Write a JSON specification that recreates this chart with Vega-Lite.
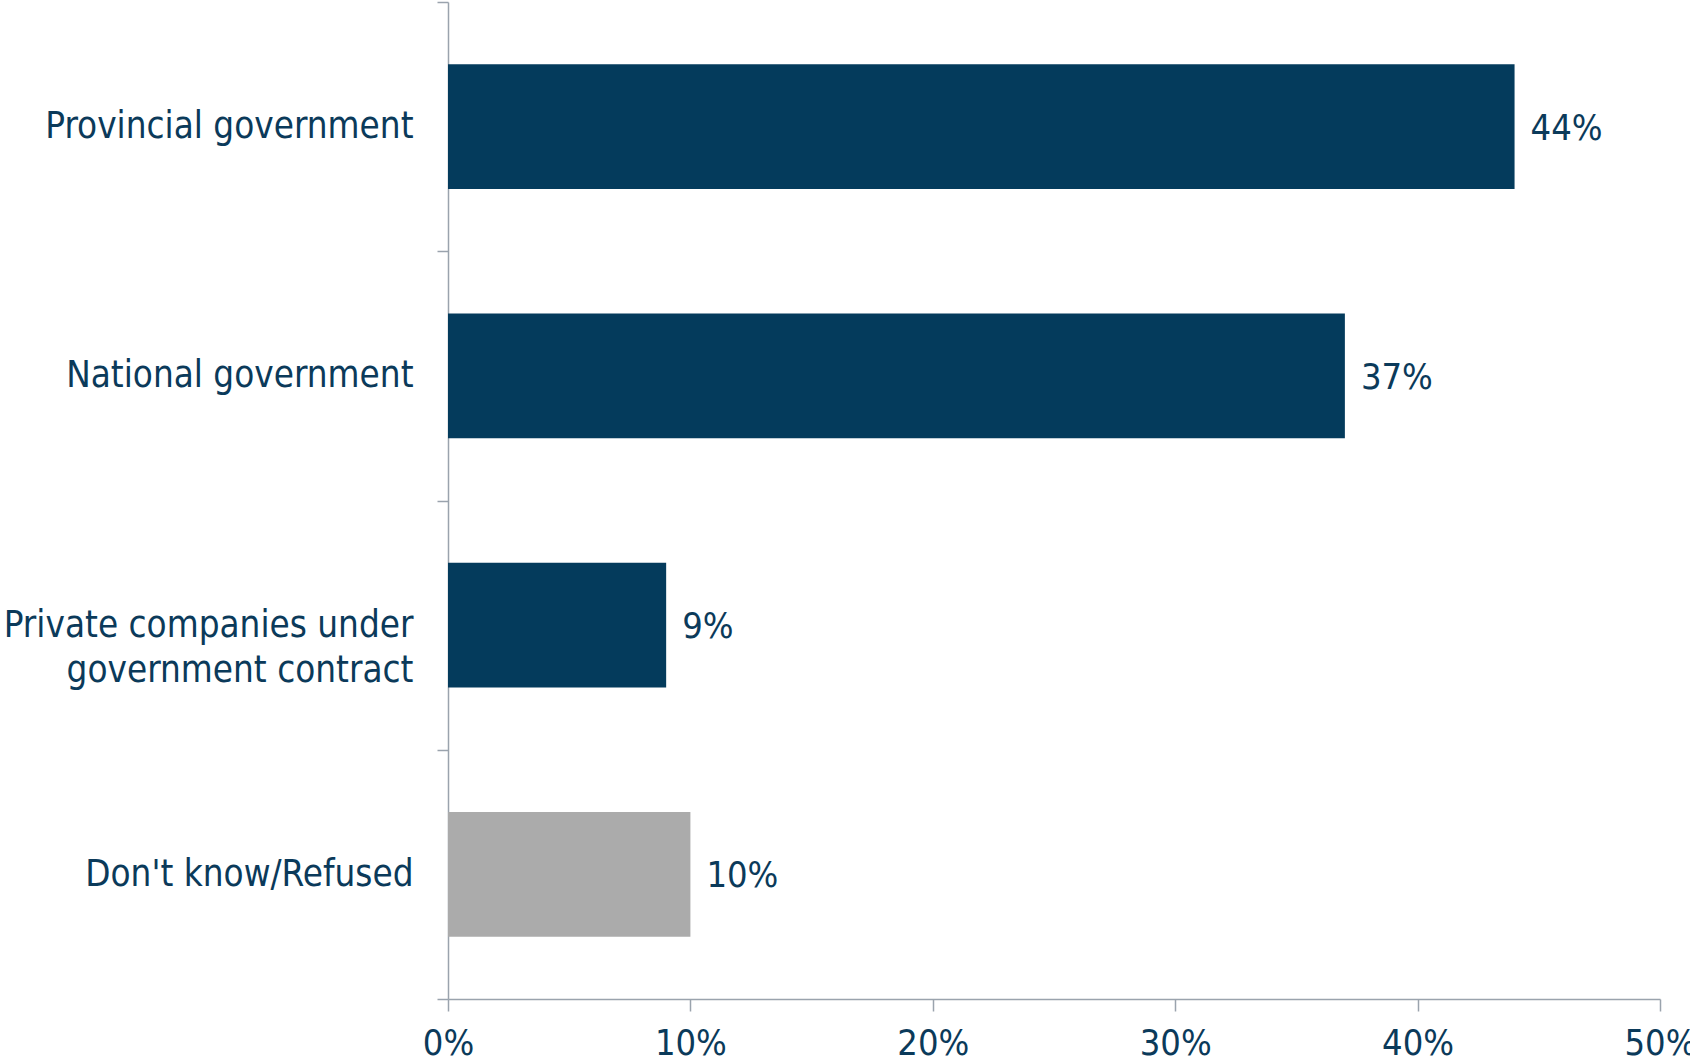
{
  "$schema": "https://vega.github.io/schema/vega-lite/v6.json",
  "autosize": "none",
  "width": 1212,
  "height": 997,
  "padding": {"left": 448, "top": 2, "right": 30, "bottom": 64},
  "background": "white",
  "config": {"view": {"stroke": null}, "font": "DejaVu Sans Condensed"},
  "data": {
    "values": [
      {"response": "Provincial government", "pct": 0.44},
      {"response": "National government", "pct": 0.37},
      {"response": "Private companies under government contract", "pct": 0.09},
      {"response": "Don't know/Refused", "pct": 0.10}
    ]
  },
  "encoding": {
    "y": {
      "field": "response",
      "type": "nominal",
      "sort": null,
      "scale": {"paddingInner": 0, "paddingOuter": 0},
      "axis": {
        "title": null,
        "orient": "left",
        "tickBand": "extent",
        "domainColor": "#9aa3ad",
        "domainWidth": 1.5,
        "tickColor": "#9aa3ad",
        "tickWidth": 1.5,
        "tickSize": 11,
        "labelPadding": 24,
        "labelFont": "DejaVu Sans Condensed",
        "labelFontSize": 36.5,
        "labelColor": "#0b3a5a",
        "labelLineHeight": 45,
        "labelLimit": 0,
        "labelExpr": "datum.value == 'Private companies under government contract' ? ['Private companies under', 'government contract'] : datum.value"
      }
    },
    "x": {
      "field": "pct",
      "type": "quantitative",
      "scale": {"domain": [0, 0.5], "nice": false},
      "axis": {
        "title": null,
        "values": [0, 0.1, 0.2, 0.3, 0.4, 0.5],
        "format": ".0%",
        "grid": false,
        "domainColor": "#9aa3ad",
        "domainWidth": 1.5,
        "tickColor": "#9aa3ad",
        "tickWidth": 1.5,
        "tickSize": 12,
        "labelPadding": 15,
        "labelFont": "DejaVu Sans Condensed",
        "labelFontSize": 36,
        "labelColor": "#0b3a5a",
        "labelFlush": false
      }
    }
  },
  "layer": [
    {
      "mark": {"type": "bar", "height": {"band": 0.5}},
      "encoding": {
        "color": {
          "field": "response",
          "type": "nominal",
          "legend": null,
          "scale": {
            "domain": ["Provincial government", "National government", "Private companies under government contract", "Don't know/Refused"],
            "range": ["#043b5c", "#043b5c", "#043b5c", "#ababab"]
          }
        }
      }
    },
    {
      "mark": {"type": "text", "align": "left", "baseline": "middle", "dx": 16, "dy": 2, "fontSize": 36, "font": "DejaVu Sans Condensed", "color": "#0b3a5a"},
      "encoding": {
        "text": {"field": "pct", "type": "quantitative", "format": ".0%"},
        "detail": {"field": "response"}
      }
    }
  ]
}
